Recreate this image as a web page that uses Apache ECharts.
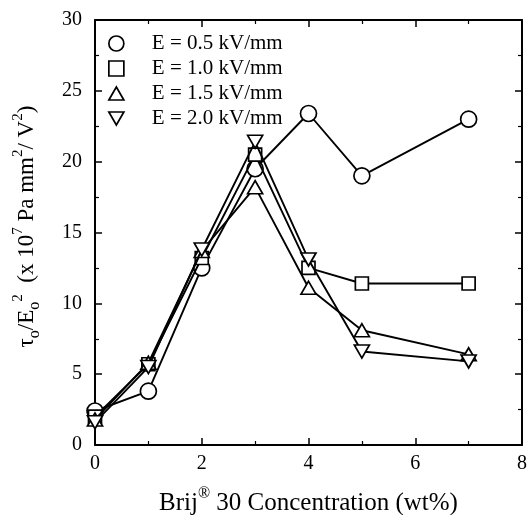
<!DOCTYPE html>
<html>
<head>
<meta charset="utf-8">
<script src="https://cdn.jsdelivr.net/npm/echarts@6/dist/echarts.min.js"></script>
<style>
  html, body { margin: 0; padding: 0; background: #fff; }
  #chart { width: 529px; height: 515px; }
</style>
</head>
<body>
<div id="chart"></div>
<script>
// Brij 30 concentration (wt%)
const concentration = [0, 1, 2, 3, 4, 5, 7];
// yield stress / E^2 (x 10^7 Pa mm^2 / V^2) for each field strength
const e05 = [2.4, 3.8, 12.5, 19.5, 23.4, 19.0, 23.0];
const e10 = [2.0, 5.7, 13.2, 20.5, 12.5, 11.4, 11.4];
const e15 = [1.8, 5.8, 13.7, 18.2, 11.1, 8.1, 6.4];
const e20 = [1.6, 5.5, 13.8, 21.4, 13.1, 6.6, 5.9];
const seriesNames = ['E = 0.5 kV/mm', 'E = 1.0 kV/mm', 'E = 1.5 kV/mm', 'E = 2.0 kV/mm'];
const xTicks = [0, 2, 4, 6, 8];
const yTicks = [0, 5, 10, 15, 20, 25, 30];

const FONT = '"Liberation Serif", "Times New Roman", serif';
const downTriangle = 'path://M0,0 L10,0 L5,8.66 Z';
const upTriangle = 'path://M5,0 L10,8.66 L0,8.66 Z';

const markerShapes = ['circle', 'rect', upTriangle, downTriangle];
const markerSizes = [16, 13, [15, 13], [15, 13]];
const seriesData = [e05, e10, e15, e20];

const chart = echarts.init(document.getElementById('chart'), null, { renderer: 'canvas' });

const sharedAxis = {
  axisLine: { show: true, onZero: false, lineStyle: { color: '#000', width: 2 } },
  axisTick: { show: true, inside: true, length: 7, lineStyle: { color: '#000', width: 1.5 } },
  minorTick: { show: true, splitNumber: 2, length: 4, lineStyle: { color: '#000', width: 1.2 } },
  splitLine: { show: false },
  minorSplitLine: { show: false }
};

function richText(size) {
  return {
    base: { fontFamily: FONT, fontSize: size, color: '#000', lineHeight: Math.round(size * 1.4) },
    sub: { fontFamily: FONT, fontSize: Math.round(size * 0.68), color: '#000', lineHeight: Math.round(size * 0.7), verticalAlign: 'bottom' },
    sup: { fontFamily: FONT, fontSize: Math.round(size * 0.65), color: '#000', lineHeight: Math.round(size * 0.7), verticalAlign: 'top' }
  };
}

const option = {
  backgroundColor: '#fff',
  animation: false,
  grid: { left: 95, right: 7, top: 20, bottom: 70, outerBoundsMode: 'none', containLabel: false },
  legend: {
    orient: 'vertical',
    left: 103,
    top: 28,
    itemWidth: 15,
    itemHeight: 15,
    itemGap: 4,
    selectedMode: false,
    itemStyle: { color: '#fff', borderColor: '#000', borderWidth: 1.7 },
    textStyle: { fontFamily: FONT, fontSize: 21, color: '#000', padding: [0, 0, 0, 23], lineHeight: 19 },
    data: seriesNames.map((n, i) => ({ name: n, icon: markerShapes[i] }))
  },
  xAxis: [
    Object.assign({}, sharedAxis, {
      type: 'value', position: 'bottom', min: xTicks[0], max: xTicks[xTicks.length - 1], interval: 2,
      axisLabel: { fontFamily: FONT, fontSize: 20, color: '#000', margin: 9 },
      name: '{base|Brij}{sup|®}{base| 30 Concentration (wt%)}',
      nameLocation: 'middle',
      nameGap: 41,
      nameTextStyle: { rich: richText(25) }
    }),
    Object.assign({}, sharedAxis, {
      type: 'value', position: 'top', min: xTicks[0], max: xTicks[xTicks.length - 1], interval: 2,
      axisLabel: { show: false }
    })
  ],
  yAxis: [
    Object.assign({}, sharedAxis, {
      type: 'value', position: 'left', min: yTicks[0], max: yTicks[yTicks.length - 1], interval: 5,
      axisLabel: { fontFamily: FONT, fontSize: 20, color: '#000', margin: 13 },
      name: '{base|τ}{sub|o}{base|/E}{sub|o}{sup|2}{base|  (x 10}{sup|7}{base| Pa mm}{sup|2}{base|/ V}{sup|2}{base|)}',
      nameLocation: 'middle',
      nameGap: 52,
      nameTextStyle: { rich: richText(23), padding: [0, 0, 0, 12] }
    }),
    Object.assign({}, sharedAxis, {
      type: 'value', position: 'right', min: yTicks[0], max: yTicks[yTicks.length - 1], interval: 5,
      axisLabel: { show: false }
    })
  ],
  series: seriesData.map((vals, i) => ({
    name: seriesNames[i],
    type: 'line',
    xAxisIndex: 0,
    yAxisIndex: 0,
    data: concentration.map((c, j) => [c, vals[j]]),
    symbol: markerShapes[i],
    symbolSize: markerSizes[i],
    showAllSymbol: true,
    lineStyle: { color: '#000', width: 1.9 },
    itemStyle: { color: '#fff', borderColor: '#000', borderWidth: 1.7 },
    z: 2 + i
  }))
};

chart.setOption(option);
</script>
</body>
</html>
